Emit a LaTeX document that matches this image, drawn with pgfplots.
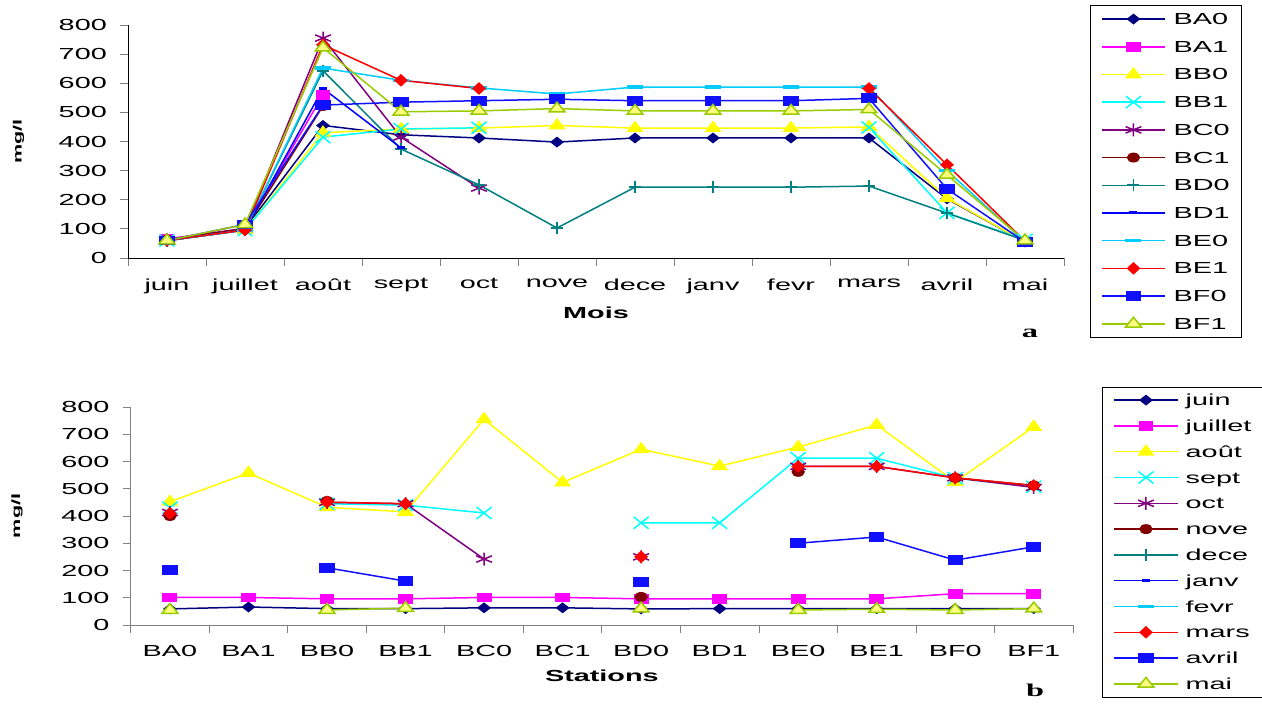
\documentclass[border=0pt]{standalone}
\usepackage{pgfplots}
\usepackage{pgfplotstable}
\pgfplotsset{compat=1.18}
\usepackage{fontspec}
\setmainfont{Liberation Sans}[FakeStretch=1.8]
\newfontfamily\serifx{Liberation Serif}[FakeStretch=1.8]
\newcommand\tf{\fontsize{16}{19}\selectfont}
\definecolor{cNavy}{HTML}{000080}
\definecolor{cMag}{HTML}{FF00FF}
\definecolor{cYel}{HTML}{FFFF00}
\definecolor{cCyan}{HTML}{00FFFF}
\definecolor{cPurp}{HTML}{800080}
\definecolor{cDRed}{HTML}{800000}
\definecolor{cTeal}{HTML}{008080}
\definecolor{cBlue}{HTML}{0000FF}
\definecolor{cSky}{HTML}{00CCFF}
\definecolor{cRed}{HTML}{FF0000}
\definecolor{cBlueB}{HTML}{1010FF}
\definecolor{cYG}{HTML}{99CC00}
\definecolor{cPaleY}{HTML}{FFFF80}
\definecolor{cGrayAx}{HTML}{808080}

\pgfplotsset{
 s1/.style={color=cNavy, line width=1.5pt, mark=diamond*, mark size=4.5pt, mark options={xscale=1.7}},
 s2/.style={color=cMag, line width=1.5pt, mark=square*, mark size=4.2pt, mark options={xscale=1.6}},
 s3/.style={color=cYel, line width=1.5pt, mark=triangle*, mark size=6.3pt, mark options={xscale=1.3}},
 s4/.style={color=cCyan, line width=1.5pt, mark=x, mark size=8.5pt, mark options={xscale=1.25}},
 s5/.style={color=cPurp, line width=1.5pt, mark=asterisk, mark size=6.5pt, mark options={xscale=1.4}},
 s6/.style={color=cDRed, line width=1.5pt, mark=*, mark size=4.2pt, mark options={xscale=1.4}},
 s7/.style={color=cTeal, line width=1.5pt, mark=+, mark size=6pt, mark options={line width=1.8pt}},
 s8/.style={color=cBlue, line width=1.5pt, mark=-, mark size=4pt, mark options={line width=3pt}},
 s9/.style={color=cSky, line width=1.5pt, mark=-, mark size=8pt, mark options={line width=3.5pt}},
 s10/.style={color=cRed, line width=1.5pt, mark=diamond*, mark size=5.3pt, mark options={xscale=1.45}},
 s11/.style={color=cBlueB, line width=1.5pt, mark=square*, mark size=4.2pt, mark options={xscale=1.65}},
 s12/.style={color=cYG, line width=1.5pt, mark=triangle*, mark size=6.5pt, mark options={xscale=1.4, fill=cPaleY}},
 excel/.style={
   scale only axis, clip=false,
   axis x line*=bottom, axis y line*=left,
   ymin=0, ymax=800, ytick={0,100,...,800},
   xmin=-0.5, xmax=11.5,
   xtick={-0.5,0.5,...,11.5},
   x tick label as interval,
   tick align=outside,
   major tick length=8pt,
   unbounded coords=jump,
   /pgf/number format/assume math mode=true,
   yticklabel style={font=\tf, inner xsep=0pt, xshift=-13pt},
   xticklabel style={font=\tf, yshift=-9pt},
   tick style={line width=0.8pt},
   legend cell align=left,
 },
}

\pgfplotstableread{
m BA0 BA1 BB0 BB1 BC0 BC1 BD0 BD1 BE0 BE1 BF0 BF1
0 59 66 60 60 63 63 59 60 60 60 60 60
1 101 101 96 96 101 101 96 96 96 96 115 115
2 455 560 430 415 755 522 643 582 652 732 525 722
3 423 nan 443 443 415 nan 374 378 610 610 535 502
4 412 nan 446 447 240 nan 251 nan 584 582 540 505
5 398 nan 455 nan nan nan 103 nan 563 nan 545 513
6 412 nan 446 nan nan nan 243 nan 587 nan 540 505
7 412 nan 446 nan nan nan 243 nan 587 nan 540 505
8 412 nan 446 nan nan nan 243 nan 587 nan 540 505
9 412 nan 450 448 nan nan 247 nan 587 582 548 510
10 203 nan 205 155 nan nan 154 nan 300 320 237 285
11 55 nan 55 62 nan nan 60 nan 55 58 55 60
}\tabA

\pgfplotstableread{
s juin juillet aout sept oct nove mars avril mai
0 59 101 452 430 413 400 410 202 55
1 66 101 558 nan nan nan nan nan nan
2 60 96 432 445 450 455 451 210 55
3 60 96 415 440 445 nan 445 161 62
4 63 101 755 411 242 nan nan nan nan
5 63 101 523 nan nan nan nan nan nan
6 59 96 645 375 250 103 250 157 60
7 60 96 583 375 nan nan nan nan nan
8 60 96 653 612 582 562 582 300 55
9 60 96 734 612 582 nan 582 323 58
10 60 115 525 539 540 540 540 238 55
11 60 115 727 507 505 512 512 287 60
}\tabB

\begin{document}
\begin{tikzpicture}
\useasboundingbox (0,0) rectangle (1262pt,706pt);

% ---------- panel a ----------
\begin{axis}[excel,
  at={(128pt,448pt)}, anchor=south west,
  width=936pt, height=233pt,
  xticklabels={juin,juillet,août,sept,oct,nove,dece,janv,fevr,mars,avril,mai},
  xlabel={Mois}, xlabel style={font=\tf\bfseries, at={(axis description cs:0.5,-0.236)}, anchor=center},
  ylabel={mg/l}, ylabel style={font=\fontsize{12}{14}\selectfont\bfseries, at={(axis description cs:-0.117,0.5)}, anchor=center},
  legend image code/.code={\draw[line width=1.5pt,mark repeat=2,mark phase=2,#1] plot coordinates {(0pt,0pt) (31.5pt,0pt) (63pt,0pt)};},
  legend style={at={(axis description cs:1.0278,1.0858)}, anchor=north west, draw=black,
    inner xsep=11pt, inner ysep=0pt, row sep=0pt, column sep=8pt, font=\tf,
    nodes={inner xsep=0pt, inner ysep=0pt, text height=19.35pt, text depth=8.35pt}},
]
\addplot[s1] table[x=m,y=BA0]{\tabA}; \addlegendentry{BA0}
\addplot[s2] table[x=m,y=BA1]{\tabA}; \addlegendentry{BA1}
\addplot[s3] table[x=m,y=BB0]{\tabA}; \addlegendentry{BB0}
\addplot[s4] table[x=m,y=BB1]{\tabA}; \addlegendentry{BB1}
\addplot[s5] table[x=m,y=BC0]{\tabA}; \addlegendentry{BC0}
\addplot[s6] table[x=m,y=BC1]{\tabA}; \addlegendentry{BC1}
\addplot[s7] table[x=m,y=BD0]{\tabA}; \addlegendentry{BD0}
\addplot[s8] table[x=m,y=BD1]{\tabA}; \addlegendentry{BD1}
\addplot[s9] table[x=m,y=BE0]{\tabA}; \addlegendentry{BE0}
\addplot[s10] table[x=m,y=BE1]{\tabA}; \addlegendentry{BE1}
\addplot[s11] table[x=m,y=BF0]{\tabA}; \addlegendentry{BF0}
\addplot[s12] table[x=m,y=BF1]{\tabA}; \addlegendentry{BF1}
\node[font=\serifx\bfseries\fontsize{18}{20}\selectfont] at (axis description cs:0.9637,-0.322) {a};
\end{axis}

% ---------- panel b ----------
\begin{axis}[excel,
  at={(130.7pt,81pt)}, anchor=south west,
  width=942.3pt, height=218pt,
  axis line style={cGrayAx, line width=0.9pt},
  tick style={cGrayAx, line width=0.8pt},
  xticklabels={BA0,BA1,BB0,BB1,BC0,BC1,BD0,BD1,BE0,BE1,BF0,BF1},
  xlabel={Stations}, xlabel style={font=\tf\bfseries, at={(axis description cs:0.5,-0.234)}, anchor=center},
  ylabel={mg/l}, ylabel style={font=\fontsize{12}{14}\selectfont\bfseries, at={(axis description cs:-0.1207,0.5)}, anchor=center},
  legend image code/.code={\draw[line width=1.5pt,mark repeat=2,mark phase=2,#1] plot coordinates {(0pt,0pt) (32pt,0pt) (64pt,0pt)};},
  legend style={at={(axis description cs:1.0308,1.0917)}, anchor=north west, draw=black,
    inner xsep=11pt, inner ysep=0pt, row sep=0pt, column sep=7pt, font=\tf,
    nodes={inner xsep=0pt, inner ysep=0pt, text height=18.4pt, text depth=7.4pt}},
]
\addplot[s1] table[x=s,y=juin]{\tabB}; \addlegendentry{juin}
\addplot[s2] table[x=s,y=juillet]{\tabB}; \addlegendentry{juillet}
\addplot[s3] table[x=s,y=aout]{\tabB}; \addlegendentry{août}
\addplot[s4] table[x=s,y=sept]{\tabB}; \addlegendentry{sept}
\addplot[s5] table[x=s,y=oct]{\tabB}; \addlegendentry{oct}
\addplot[s6] table[x=s,y=nove]{\tabB}; \addlegendentry{nove}
\addlegendimage{s7} \addlegendentry{dece}
\addlegendimage{s8} \addlegendentry{janv}
\addlegendimage{s9} \addlegendentry{fevr}
\addplot[s10] table[x=s,y=mars]{\tabB}; \addlegendentry{mars}
\addplot[s11] table[x=s,y=avril]{\tabB}; \addlegendentry{avril}
\addplot[s12] table[x=s,y=mai]{\tabB}; \addlegendentry{mai}
\node[font=\serifx\bfseries\fontsize{18}{20}\selectfont] at (axis description cs:0.9597,-0.298) {b};
\end{axis}
\end{tikzpicture}
\end{document}
